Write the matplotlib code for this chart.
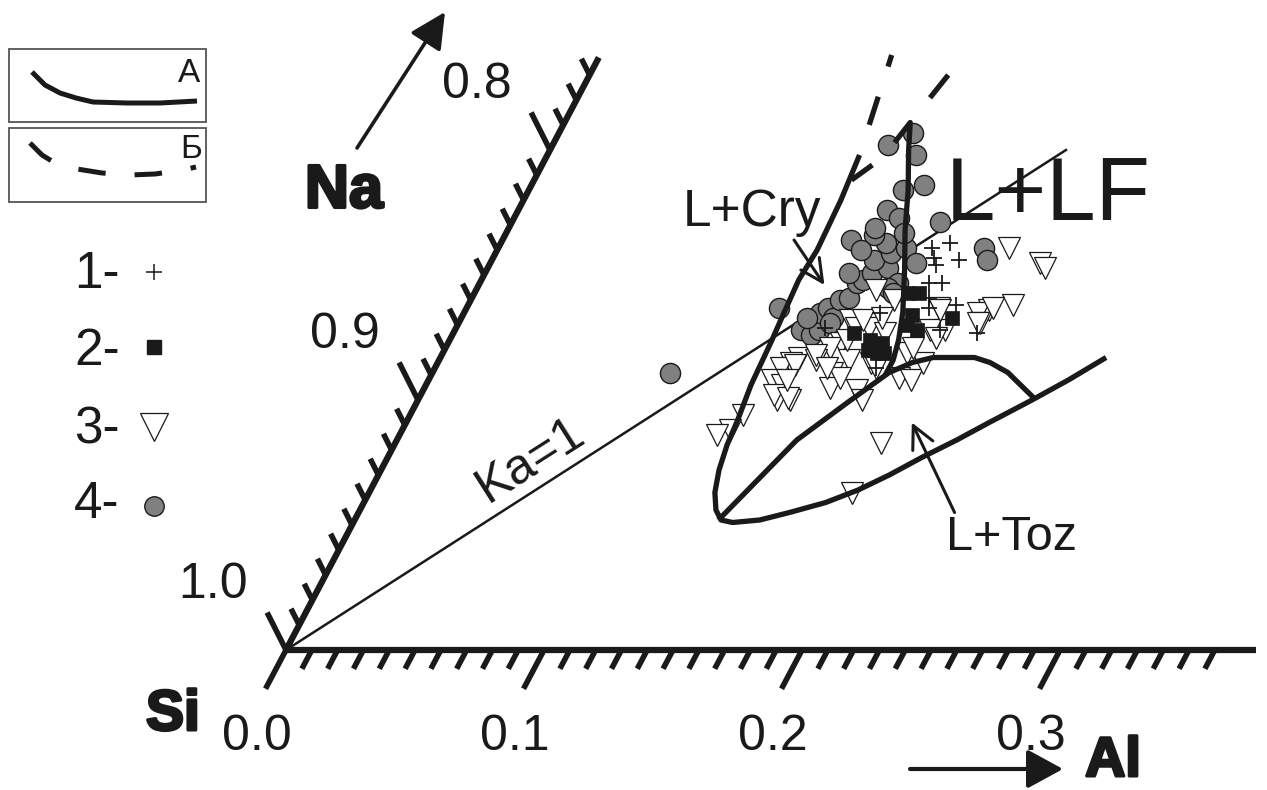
import matplotlib
matplotlib.use("Agg")
import matplotlib.pyplot as plt
import matplotlib.patheffects as pe
from matplotlib.patches import Rectangle
from matplotlib.transforms import Affine2D
import numpy as np

plt.rcParams['font.family'] = ['Liberation Sans', 'DejaVu Sans']

# --- compositions, atomic fractions: (Al, Na), Si = 1 - Al - Na ---
# 1 - crosses
plus_al = [0.174, 0.168, 0.171, 0.181, 0.173, 0.174, 0.179, 0.177, 0.179,
           0.189, 0.161, 0.188, 0.203, 0.143, 0.171]
plus_na = [0.163, 0.161, 0.157, 0.156, 0.154, 0.147, 0.147, 0.141, 0.137,
           0.138, 0.135, 0.128, 0.127, 0.129, 0.113]
# 2 - black squares
sq_al = [0.168, 0.172, 0.174, 0.190, 0.155, 0.163, 0.168, 0.164, 0.171,
         0.174, 0.179, 0.168]
sq_na = [0.143, 0.143, 0.134, 0.133, 0.127, 0.124, 0.123, 0.120, 0.119,
         0.130, 0.128, 0.119]
# 3 - open triangles
tri_al = [0.155, 0.164, 0.183, 0.198, 0.213, 0.216, 0.211, 0.203, 0.199, 0.202,
          0.204, 0.186, 0.190, 0.184, 0.151, 0.155, 0.160, 0.167, 0.152, 0.149,
          0.139, 0.146, 0.137, 0.134, 0.133, 0.138, 0.155, 0.157, 0.159, 0.139,
          0.144, 0.168, 0.172, 0.182, 0.187, 0.188, 0.180, 0.181, 0.188, 0.184,
          0.129, 0.127, 0.123, 0.188, 0.187, 0.156, 0.163, 0.159, 0.137, 0.143,
          0.168, 0.171, 0.139, 0.145, 0.152, 0.201, 0.154, 0.139]
tri_na = [0.144, 0.140, 0.137, 0.161, 0.155, 0.153, 0.138, 0.136, 0.135, 0.131,
          0.137, 0.127, 0.128, 0.128, 0.132, 0.129, 0.129, 0.127, 0.123, 0.121,
          0.117, 0.116, 0.115, 0.113, 0.108, 0.106, 0.111, 0.105, 0.116, 0.100,
          0.100, 0.104, 0.100, 0.109, 0.108, 0.115, 0.119, 0.121, 0.125, 0.136,
          0.094, 0.088, 0.086, 0.083, 0.063, 0.132, 0.133, 0.109, 0.102, 0.101,
          0.115, 0.113, 0.114, 0.118, 0.113, 0.131, 0.124, 0.108]
# 4 - grey circles
circ_al = [0.092, 0.121, 0.134, 0.139, 0.141, 0.138, 0.140, 0.144, 0.143, 0.146,
           0.146, 0.148, 0.141, 0.150, 0.155, 0.162, 0.159, 0.135, 0.148, 0.153,
           0.149, 0.158, 0.165, 0.143, 0.142, 0.143, 0.149, 0.145, 0.152, 0.166,
           0.130, 0.137, 0.143, 0.188, 0.192, 0.162, 0.154, 0.144, 0.134, 0.141]
circ_na = [0.111, 0.137, 0.128, 0.126, 0.128, 0.135, 0.137, 0.133, 0.140, 0.141,
           0.147, 0.148, 0.151, 0.151, 0.153, 0.147, 0.145, 0.164, 0.156, 0.159,
           0.163, 0.161, 0.155, 0.166, 0.169, 0.176, 0.173, 0.184, 0.186, 0.171,
           0.202, 0.207, 0.198, 0.161, 0.156, 0.143, 0.167, 0.131, 0.133, 0.160]

# field boundaries (A - solid)
cry_al = [0.121, 0.123, 0.124, 0.123, 0.124, 0.125, 0.126, 0.128, 0.129, 0.131,
          0.134, 0.138, 0.142, 0.147, 0.157, 0.167, 0.179, 0.189, 0.198, 0.207,
          0.217, 0.226, 0.238, 0.248, 0.258]
cry_na = [0.198, 0.180, 0.160, 0.148, 0.135, 0.123, 0.106, 0.092, 0.082, 0.072,
          0.063, 0.056, 0.052, 0.051, 0.052, 0.055, 0.059, 0.064, 0.070, 0.077,
          0.084, 0.091, 0.100, 0.108, 0.117]
toz_al = [0.141, 0.148, 0.155, 0.167, 0.177, 0.184, 0.191, 0.207, 0.214, 0.223,
          0.232, 0.238]
toz_na = [0.052, 0.068, 0.084, 0.099, 0.111, 0.115, 0.117, 0.117, 0.115, 0.111,
          0.105, 0.101]
lf_al = [0.132, 0.134, 0.139, 0.147, 0.154, 0.162, 0.170, 0.174, 0.176, 0.176]
lf_na = [0.203, 0.211, 0.200, 0.184, 0.168, 0.152, 0.135, 0.124, 0.116, 0.110]
fork_al = [0.123, 0.128]
fork_na = [0.188, 0.194]
# Б - dashed continuations
dash1_al = [0.121, 0.113]
dash1_na = [0.198, 0.238]
dash2_al = [0.134, 0.139]
dash2_na = [0.211, 0.230]
# Ka = 1
ka_al = [0.0, 0.2]
ka_na = [0.0, 0.2]

al_labels = ['0.0', '0.1', '0.2', '0.3']
si_labels = ['1.0', '0.9', '0.8']

INK = '#1a1a1a'

fig = plt.figure(figsize=(12.67, 7.90), dpi=100)
ax = fig.add_axes([0, 0, 1, 1])
ax.set_xlim(0, 1267)
ax.set_ylim(790, 0)
ax.axis('off')

# skewed ternary frame: Al along the base, Na along the left side
T = Affine2D.from_values(2580, 0, 1320, -2500, 286, 650) + ax.transData

# axes
ax.plot([0, 0.376], [0, 0], color=INK, lw=4.5, transform=T, solid_capstyle='butt')
ax.plot([0, 0], [0, 0.237], color=INK, lw=4.5, transform=T, solid_capstyle='butt')
for t in np.round(np.arange(0, 0.361, 0.01), 2):
    major = abs(t * 10 - round(t * 10)) < 1e-6
    L = 0.0155 if major else 0.0075
    ax.plot([t, t], [0, -L], color=INK, lw=4, transform=T, solid_capstyle='butt')
for n in np.round(np.arange(0, 0.231, 0.01), 2):
    major = abs(n * 10 - round(n * 10)) < 1e-6
    d = 0.0150 if major else 0.0065
    ax.plot([0, -d], [n, n + d], color=INK, lw=4, transform=T, solid_capstyle='butt')
for i, lab in enumerate(al_labels):
    ax.text(i * 0.1 + 0.009, -0.040, lab, transform=T, ha='center', va='baseline',
            fontsize=36, color=INK)
for i, lab in enumerate(si_labels):
    ax.text(-0.039, i * 0.1 + 0.021, lab, transform=T, ha='center', va='baseline',
            fontsize=36, color=INK)

# Ka = 1 line
ax.plot(ka_al, ka_na, color=INK, lw=1.8, transform=T, zorder=1)
ax.text(0.056, 0.076, 'Ka=1', transform=T, rotation=32.5, rotation_mode='anchor',
        ha='center', va='center', fontsize=36, color=INK)

# data
ax.plot(circ_al, circ_na, 'o', ms=14.5, mfc='#808080', mec=INK, mew=1.0, transform=T, zorder=3)
ax.plot(tri_al, tri_na, 'v', ms=16, mfc='white', mec=INK, mew=0.9, transform=T, zorder=4)
ax.plot(sq_al, sq_na, 's', ms=9.5, mfc=INK, mec=INK, mew=0.5, transform=T, zorder=5)
ax.plot(plus_al, plus_na, '+', ms=11, mec=INK, mew=1.3, transform=T, zorder=6)

# boundaries
for xs, ys in [(cry_al, cry_na), (toz_al, toz_na), (lf_al, lf_na), (fork_al, fork_na)]:
    ax.plot(xs, ys, color=INK, lw=3.8, transform=T, zorder=7,
            solid_capstyle='butt', solid_joinstyle='round')
for xs, ys in [(dash1_al, dash1_na), (dash2_al, dash2_na)]:
    ax.plot(xs, ys, color=INK, lw=3.8, transform=T, zorder=7,
            linestyle=(5.6, (5.6, 6.0)), dash_capstyle='butt')

# field labels
ax.text(0.091, 0.175, 'L+Cry', transform=T, ha='center', va='center', fontsize=37, color=INK)
ax.text(0.203, 0.181, 'L+LF', transform=T, ha='center', va='center', fontsize=64, color=INK)
ax.text(0.258, 0.045, 'L+Toz', transform=T, ha='center', va='center', fontsize=35, color=INK)
ax.annotate('', xy=(0.134, 0.146), xytext=(0.113, 0.164), xycoords=T, textcoords=T,
            arrowprops=dict(arrowstyle='->,head_length=0.8,head_width=0.4', lw=2.2,
                            color=INK, shrinkA=0, shrinkB=0, mutation_scale=20), zorder=8)
ax.annotate('', xy=(0.196, 0.091), xytext=(0.231, 0.055), xycoords=T, textcoords=T,
            arrowprops=dict(arrowstyle='->,head_length=0.8,head_width=0.4', lw=2.2,
                            color=INK, shrinkA=0, shrinkB=0, mutation_scale=20), zorder=8)

# component names and direction arrows
heavy = [pe.withStroke(linewidth=2.2, foreground=INK)]
ax.text(173, 715, 'Si', ha='center', va='center', fontsize=41, fontweight='bold',
        color=INK, path_effects=heavy)
ax.text(344, 192, 'Na', ha='center', va='center', fontsize=44, fontweight='bold',
        color=INK, path_effects=heavy)
ax.text(1113, 762, 'Al', ha='center', va='center', fontsize=40, fontweight='bold',
        color=INK, path_effects=heavy)
ax.annotate('', xy=(445, 12), xytext=(357, 148),
            arrowprops=dict(arrowstyle='-|>,head_length=1.1,head_width=0.55', lw=2.6,
                            color=INK, shrinkA=0, shrinkB=0, mutation_scale=20))
ax.annotate('', xy=(1063, 769), xytext=(910, 769),
            arrowprops=dict(arrowstyle='-|>,head_length=1.1,head_width=0.6', lw=3.0,
                            color=INK, shrinkA=0, shrinkB=0, mutation_scale=20))

# legend: line types
ax.add_patch(Rectangle((9, 49), 197, 73, fill=False, ec='#555555', lw=1.3))
ax.add_patch(Rectangle((9, 128), 197, 74, fill=False, ec='#555555', lw=1.3))
ax.plot([32, 45, 60, 76, 93, 127, 160, 197], [72, 85, 93, 98, 102, 103, 103, 101],
        color=INK, lw=3.6, solid_capstyle='butt')
ax.plot([30, 42, 55, 77, 102, 130, 155, 183, 196], [143, 155, 163, 169, 173, 175, 174, 170, 167],
        color=INK, lw=3.6, linestyle=(0, (5.5, 5.8)), dash_capstyle='butt')
ax.text(189, 73, 'А', ha='center', va='center', fontsize=24, color=INK)
ax.text(191, 150, 'Б', ha='center', va='center', fontsize=24, color=INK)

# legend: symbols
leg_names = ['1-', '2-', '3-', '4-']
leg_base = [288, 365, 443, 518]
leg_mark = [dict(marker='+', ms=12, mec=INK, mew=1.1),
            dict(marker='s', ms=9.5, mfc=INK, mec=INK),
            dict(marker='v', ms=20, mfc='white', mec=INK, mew=0.9),
            dict(marker='o', ms=14, mfc='#808080', mec=INK, mew=1.0)]
leg_dy = [-16, -18, -16, -12]
for name, yb, mk, dy in zip(leg_names, leg_base, leg_mark, leg_dy):
    ax.text(74, yb, name, ha='left', va='baseline', fontsize=37, color=INK)
    ax.plot([154], [yb + dy], linestyle='none', **mk)

fig.savefig('out.png', dpi=100)
